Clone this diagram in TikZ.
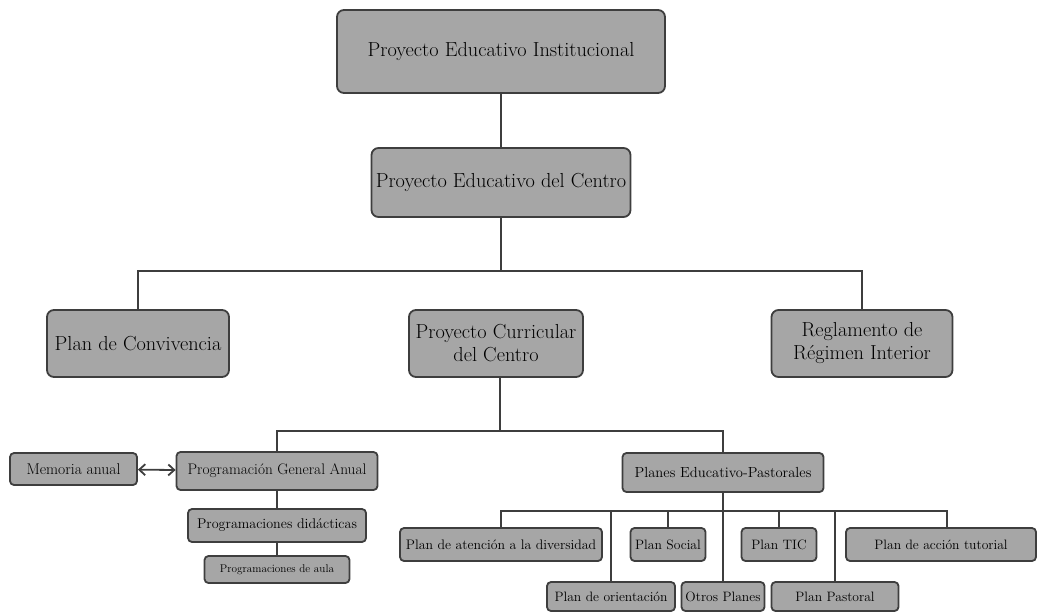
\documentclass[tikz,border=0pt]{standalone}
\usetikzlibrary{arrows.meta}
\definecolor{boxfill}{RGB}{166,166,166}
\definecolor{edge}{RGB}{62,62,62}
\tikzset{
  box/.style={draw=edge, line width=1.8pt, fill=boxfill, rounded corners=7pt, inner sep=0pt, align=center, text=black},
  sbox/.style={box, rounded corners=4pt},
  conn/.style={draw=edge, line width=1.8pt},
}
\begin{document}
\begin{tikzpicture}[x=1pt,y=-1pt]
\useasboundingbox (0,0) rectangle (1038,613);
% level 1-2
\node[box, minimum width=328pt, minimum height=83pt, font=\fontsize{20.3}{23}\selectfont] (pei) at (501,51.5) {Proyecto Educativo Institucional};
\node[box, minimum width=259pt, minimum height=69pt, font=\fontsize{20.3}{23}\selectfont] (pec) at (501,182.5) {Proyecto Educativo del Centro};
% level 3
\node[box, minimum width=182pt, minimum height=67pt, font=\fontsize{20.3}{23}\selectfont] (conv) at (138,343.5) {Plan de Convivencia};
\node[box, minimum width=174pt, minimum height=67pt, font=\fontsize{20.3}{23}\selectfont] (pcc) at (496,343.5) {Proyecto Curricular\\del Centro};
\node[box, minimum width=181pt, minimum height=67pt, font=\fontsize{20.3}{23}\selectfont] (rri) at (862,343.5) {Reglamento de\\R\'egimen Interior};
% level 4
\node[sbox, minimum width=201pt, minimum height=38pt, font=\fontsize{15.3}{17}\selectfont] (pga) at (277,471) {Programaci\'on General Anual};
\node[sbox, minimum width=127pt, minimum height=32pt, font=\fontsize{15.6}{17}\selectfont] (mem) at (73.5,469) {Memoria anual};
\node[sbox, minimum width=178pt, minimum height=33pt, font=\fontsize{14.1}{16}\selectfont] (pdid) at (277,525.5) {Programaciones did\'acticas};
\node[sbox, minimum width=145pt, minimum height=27pt, font=\fontsize{11.2}{13}\selectfont] (paula) at (277,569.5) {Programaciones de aula};
\node[sbox, minimum width=201pt, minimum height=39pt, font=\fontsize{14.6}{17}\selectfont] (pep) at (723,472.5) {Planes Educativo-Pastorales};
% level 5
\node[sbox, minimum width=202pt, minimum height=33pt, font=\fontsize{13.8}{15}\selectfont] (div) at (501,544.5) {Plan de atenci\'on a la diversidad};
\node[sbox, minimum width=75pt, minimum height=33pt, font=\fontsize{13.6}{15}\selectfont] (soc) at (668,544.5) {Plan Social};
\node[sbox, minimum width=75pt, minimum height=33pt, font=\fontsize{13.6}{15}\selectfont] (tic) at (779,544.5) {Plan TIC};
\node[sbox, minimum width=190pt, minimum height=33pt, font=\fontsize{13.6}{15}\selectfont] (tut) at (941,544.5) {Plan de acci\'on tutorial};
\node[sbox, minimum width=128pt, minimum height=29pt, font=\fontsize{13.6}{15}\selectfont] (ori) at (611,596.5) {Plan de orientaci\'on};
\node[sbox, minimum width=83pt, minimum height=29pt, font=\fontsize{13.6}{15}\selectfont] (otros) at (723,596.5) {Otros Planes};
\node[sbox, minimum width=127pt, minimum height=29pt, font=\fontsize{13.6}{15}\selectfont] (past) at (835,596.5) {Plan Pastoral};
% connectors
\draw[conn] (pei) -- (pec);
\draw[conn] (pec.south) -- ++(0,53) coordinate (h1);
\draw[conn] (conv.north) |- (h1) -| (rri.north);
\draw[conn] (pcc.south -| 500,0) -- ++(0,53) coordinate (h2);
\draw[conn] (pga.north) |- (h2) -| (pep.north);
\draw[conn] (pga) -- (pdid);
\draw[conn] (pdid) -- (paula);
\draw[conn, {Straight Barb[length=6pt,width=11pt]}-{Straight Barb[length=6pt,width=11pt]}] (mem) -- (pga);
\draw[conn] (pep.south) -- (otros.north);
\coordinate (h3) at (723,511);
\draw[conn] (div.north) |- (h3) -| (tut.north -| 947,0);
\draw[conn] (ori.north) -- (ori.north |- h3);
\draw[conn] (soc.north) -- (soc.north |- h3);
\draw[conn] (tic.north) -- (tic.north |- h3);
\draw[conn] (past.north) -- (past.north |- h3);
\end{tikzpicture}
\end{document}
